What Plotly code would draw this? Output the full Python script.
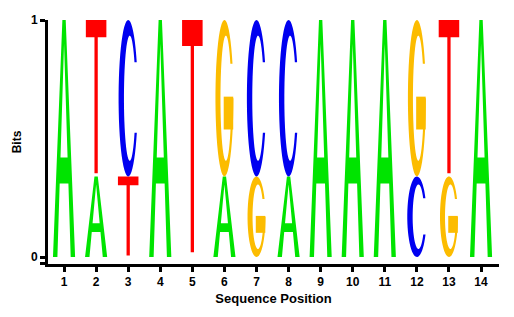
import numpy as np
import plotly.graph_objects as go

# ---------------- data (bits per nucleotide at each position) ----------------
positions = [1, 2, 3, 4, 5, 6, 7, 8, 9, 10, 11, 12, 13, 14]
bits_A = [1.0, 0.34, 0.0, 1.0, 0.0, 0.34, 0.0, 0.34, 1.0, 1.0, 1.0, 0.0, 0.0, 1.0]
bits_C = [0.0, 0.0, 0.66, 0.0, 0.0, 0.0, 0.66, 0.66, 0.0, 0.0, 0.0, 0.34, 0.0, 0.0]
bits_G = [0.0, 0.0, 0.0, 0.0, 0.0, 0.66, 0.34, 0.0, 0.0, 0.0, 0.0, 0.66, 0.34, 0.0]
bits_T = [0.0, 0.66, 0.34, 0.0, 1.0, 0.0, 0.0, 0.0, 0.0, 0.0, 0.0, 0.0, 0.66, 0.0]
y_tick_vals = [0, 1]
y_tick_text = ["0", "1"]

# ---------------- style ----------------
colors = {"A": "#00e400", "C": "#0000f0", "G": "#fcbc00", "T": "#ff0000"}
widths = {"A": 0.69, "C": 0.60, "G": 0.56, "T": 0.64}
FONT = "Liberation Sans, Arial, sans-serif"


def arc(cx, cy, rx, ry, a0, a1, n=50):
    t = np.radians(np.linspace(a0, a1, n))
    return list(zip(cx + rx * np.cos(t), cy + ry * np.sin(t)))


def ring(a_top_y, end_deg, bot_y=None):
    ocx, ocy, orx, ory = 0.5, 0.5, 0.5, 0.5
    icx, icy, irx, iry = 0.58, 0.5, 0.30, 0.40
    th0 = np.degrees(np.arcsin((a_top_y - ocy) / ory))
    ph0 = np.degrees(np.arcsin((a_top_y - icy) / iry))
    if bot_y is not None:
        th1 = 360 + np.degrees(np.arcsin((bot_y - ocy) / ory))
        ph1 = 360 + np.degrees(np.arcsin((bot_y - icy) / iry))
    else:
        th1 = end_deg
        ph1 = end_deg
    outer = arc(ocx, ocy, orx, ory, th0, th1)
    inner = arc(icx, icy, irx, iry, ph1, ph0)
    return outer + inner


def glyph(letter):
    """Return list of (list_of_polygons, fillrule) in unit letter coords."""
    if letter == "A":
        outer = [(0, 0), (0.2, 0), (0.303, 0.31), (0.697, 0.31), (0.8, 0), (1, 0),
                 (0.575, 1), (0.425, 1)]
        hole = [(0.34, 0.42), (0.66, 0.42), (0.5, 0.9)]
        return [([outer, hole], "evenodd")]
    if letter == "T":
        poly = [(0.42, 0.02), (0.58, 0.02), (0.58, 0.89), (1, 0.89), (1, 1),
                (0, 1), (0, 0.89), (0.42, 0.89)]
        return [([poly], "nonzero")]
    if letter == "C":
        return [([ring(0.73, None, 0.28)], "nonzero")]
    if letter == "G":
        block = [(0.46, 0.30), (0.99, 0.30), (0.99, 0.51), (0.46, 0.51)]
        return [([ring(0.72, 360)], "nonzero"), ([block], "nonzero")]
    return []


def to_path(polys, x0, w, y0, h):
    parts = []
    for poly in polys:
        pts = [(x0 + (gx - 0.5) * w, y0 + gy * h) for gx, gy in poly]
        s = "M " + " L ".join(f"{px:.5f},{py:.5f}" for px, py in pts) + " Z"
        parts.append(s)
    return " ".join(parts)


shapes = []
totals = []
for i, pos in enumerate(positions):
    stack = [("A", bits_A[i]), ("C", bits_C[i]), ("G", bits_G[i]), ("T", bits_T[i])]
    stack = sorted([s for s in stack if s[1] > 0], key=lambda s: s[1])
    base = 0.0
    for letter, h in stack:
        for polys, rule in glyph(letter):
            shapes.append(dict(
                type="path", xref="x", yref="y",
                path=to_path(polys, pos, widths[letter], base, h),
                fillcolor=colors[letter], line=dict(width=0),
                fillrule=rule, layer="above",
            ))
        base += h
    totals.append(base)

fig = go.Figure()
fig.add_trace(go.Scatter(
    x=positions, y=totals, mode="markers",
    marker=dict(opacity=0), hoverinfo="x+y", showlegend=False,
))

y_min = -0.0295
fig.update_layout(
    width=514, height=317,
    margin=dict(l=48, r=15, t=20, b=53),
    paper_bgcolor="white", plot_bgcolor="white",
    shapes=shapes,
    showlegend=False,
    font=dict(family=FONT, color="black"),
    xaxis=dict(
        range=[0.5, 14.56], tickmode="array", tickvals=positions,
        ticktext=[str(p) for p in positions],
        ticks="outside", ticklen=5, tickwidth=3, tickcolor="black",
        showline=True, linewidth=3, linecolor="black",
        showgrid=False, zeroline=False,
        tickfont=dict(family=FONT, size=12, color="black", weight="bold"),
        title=dict(text="Sequence Position", standoff=6,
                   font=dict(family=FONT, size=13, color="black", weight="bold")),
    ),
    yaxis=dict(
        range=[y_min, 1.0], tickmode="array",
        tickvals=[y_min + 0.0002] + y_tick_vals, ticktext=[""] + y_tick_text,
        ticks="outside", ticklen=5, tickwidth=3, tickcolor="black",
        showline=True, linewidth=3, linecolor="black",
        showgrid=False, zeroline=False,
        tickfont=dict(family=FONT, size=12, color="black", weight="bold"),
        title=dict(text="Bits", standoff=7,
                   font=dict(family=FONT, size=12, color="black", weight="bold")),
    ),
)

fig.write_html("out.html")
